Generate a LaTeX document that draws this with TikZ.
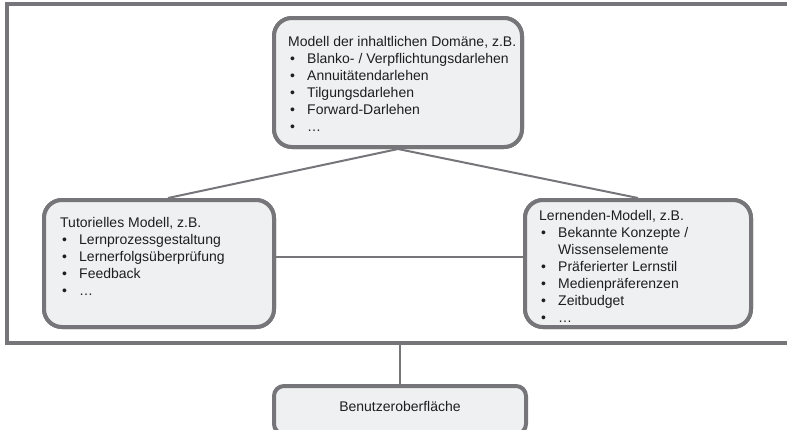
\documentclass[tikz,border=0pt]{standalone}
\usepackage{fontspec}
\setmainfont{Liberation Sans}
\usetikzlibrary{calc}
\definecolor{edge}{HTML}{76767A}
\definecolor{boxfill}{HTML}{EFF0F2}
\definecolor{ink}{HTML}{1E1E1E}
% bullet with hanging indent, and the matching indent for a continued line
\newcommand\bul{\makebox[19pt][l]{\hspace{2pt}•}}
\newcommand\cont{\makebox[19pt]{}}
\begin{document}
\begin{tikzpicture}[x=1pt,y=-1pt,
  model/.style={draw=edge, line width=4pt, fill=boxfill, rounded corners=18pt, inner sep=0pt},
  uibox/.style={model, rounded corners=10pt},
  link/.style={draw=edge, line width=2pt},
  frame/.style={draw=edge, line width=4pt},
  txt/.style={text=ink, font=\fontsize{14}{17}\selectfont, inner sep=0pt, anchor=base west}]
\useasboundingbox (0,0) rectangle (787,429);
\clip (0,0) rectangle (787,429);

% system frame (open to the right)
\draw[frame] (800,3.5) -- (7,3.5) -- (7,342.5) -- (800,342.5);

% component boxes
\node[model, minimum width=248pt, minimum height=129pt] (dom)  at (398,82.5) {};
\node[model, minimum width=230pt, minimum height=127pt] (tut)  at (159,263.5) {};
\node[model, minimum width=226pt, minimum height=127pt] (lern) at (638,263.5) {};
\node[uibox, minimum width=252pt, minimum height=48pt]  (ui)   at (400,410) {};
\coordinate (fb) at (400,342.5);

% connectors
\draw[link] (dom.south) -- ($(tut.north)+(9,0)$);
\draw[link] (dom.south) -- (lern.north);
\draw[link] ($(tut.east)+(0,-6.5)$) -- ($(lern.west)+(0,-6.5)$);
\draw[link] (fb) -- (ui.north);

% redraw boxes over connector ends
\node[model, minimum width=248pt, minimum height=129pt] at (dom) {};
\node[model, minimum width=230pt, minimum height=127pt] at (tut) {};
\node[model, minimum width=226pt, minimum height=127pt] at (lern) {};

% texts
\node[txt] (domtxt) at (288,46.7) {\begin{tabular}[t]{@{}l@{}}
Modell der inhaltlichen Domäne, z.B.\\
\bul Blanko- / Verpflichtungsdarlehen\\
\bul Annuitätendarlehen\\
\bul Tilgungsdarlehen\\
\bul Forward-Darlehen\\
\bul …
\end{tabular}};

\node[txt] (tuttxt) at (60,227.7) {\begin{tabular}[t]{@{}l@{}}
Tutorielles Modell, z.B.\\
\bul Lernprozessgestaltung\\
\bul Lernerfolgsüberprüfung\\
\bul Feedback\\
\bul …
\end{tabular}};

\node[txt] (lerntxt) at (539,220.5) {\begin{tabular}[t]{@{}l@{}}
Lernenden-Modell, z.B.\\
\bul Bekannte Konzepte /\\
\cont Wissenselemente\\
\bul Präferierter Lernstil\\
\bul Medienpräferenzen\\
\bul Zeitbudget\\
\bul …
\end{tabular}};

\node[txt, anchor=base] (uitxt) at (400,411.5) {Benutzeroberfläche};
\end{tikzpicture}
\end{document}
